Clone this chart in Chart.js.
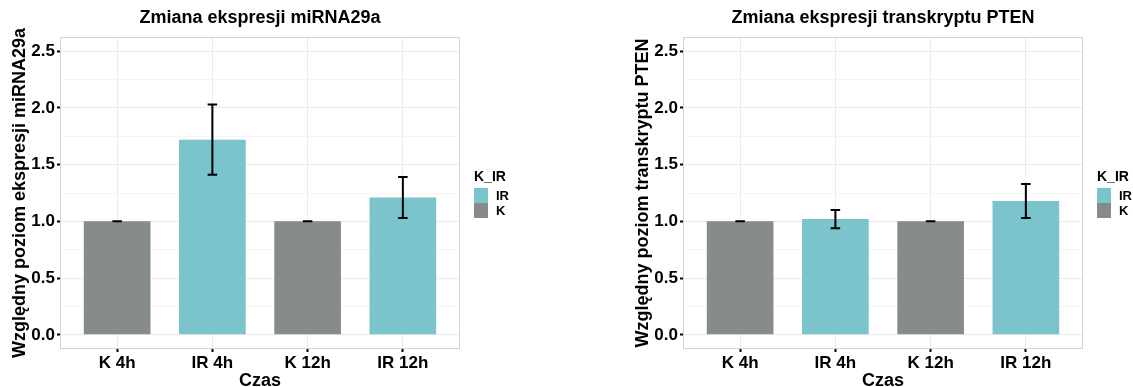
<!DOCTYPE html>
<html lang="pl">
<head>
  <meta charset="UTF-8">
  <title>Zmiana ekspresji miRNA29a i PTEN</title>
  <script src="https://cdn.jsdelivr.net/npm/chart.js"></script>
  <style>
    body {
      margin: 0;
      width: 1133px;
      height: 387px;
      overflow: hidden;
      background: #fff;
      position: relative;
    }
    .panel {
      position: absolute;
      top: 0;
      width: 560px;
      height: 387px;
    }
    #p1 { left: 0; }
    #p2 { left: 623px; }
  </style>
</head>
<body>

  <div class="panel" id="p1"><canvas id="c1" width="560" height="387"></canvas></div>
  <div class="panel" id="p2"><canvas id="c2" width="560" height="387"></canvas></div>

  <script>
    const categories = ['K 4h', 'IR 4h', 'K 12h', 'IR 12h'];
    const groups = ['K', 'IR', 'K', 'IR'];
    const legendKeys = ['IR', 'K'];
    const yMajor = [0, 0.5, 1, 1.5, 2, 2.5];
    const yMinor = [0.25, 0.75, 1.25, 1.75, 2.25];

    const mirnaMean = [1.0, 1.72, 1.0, 1.21];
    const mirnaLow = [1.0, 1.41, 1.0, 1.03];
    const mirnaHigh = [1.0, 2.03, 1.0, 1.39];

    const ptenMean = [1.0, 1.02, 1.0, 1.18];
    const ptenLow = [1.0, 0.94, 1.0, 1.03];
    const ptenHigh = [1.0, 1.10, 1.0, 1.33];

    const colors = { IR: '#7bc4cc', K: '#868c8a' };
    const FONT = "'Liberation Sans', Arial, sans-serif";

    // error bars, panel border, title and legend drawn on the chart's own scales
    const panelPlugin = {
      id: 'panel',
      afterDatasetsDraw(chart, args, opts) {
        const { ctx, scales: { x, y } } = chart;
        const half = x.getPixelForValue(1.05) - x.getPixelForValue(1);
        ctx.save();
        ctx.strokeStyle = '#000';
        ctx.lineWidth = 2;
        opts.low.forEach((lo, i) => {
          const cx = x.getPixelForValue(i + 1);
          const yl = y.getPixelForValue(lo);
          const yh = y.getPixelForValue(opts.high[i]);
          ctx.beginPath();
          ctx.moveTo(cx, yl); ctx.lineTo(cx, yh);
          ctx.moveTo(cx - half, yl); ctx.lineTo(cx + half, yl);
          ctx.moveTo(cx - half, yh); ctx.lineTo(cx + half, yh);
          ctx.stroke();
        });
        ctx.restore();
      },
      afterDraw(chart, args, opts) {
        const { ctx, chartArea: a } = chart;
        ctx.save();
        ctx.strokeStyle = '#d2d2d2';
        ctx.lineWidth = 1;
        ctx.strokeRect(a.left + 0.5, a.top + 0.5, a.right - a.left - 1, a.bottom - a.top - 1);

        ctx.fillStyle = '#000';
        ctx.textAlign = 'center';
        ctx.textBaseline = 'middle';
        ctx.font = 'bold 18px ' + FONT;
        ctx.fillText(opts.title, (a.left + a.right) / 2, 18);

        const mid = (a.top + a.bottom) / 2;
        const lx = a.right + 14;
        ctx.textAlign = 'left';
        ctx.textBaseline = 'alphabetic';
        ctx.font = 'bold 14px ' + FONT;
        ctx.fillText('K_IR', lx, mid - 12);
        ctx.font = 'bold 13px ' + FONT;
        ctx.textBaseline = 'middle';
        legendKeys.forEach((k, i) => {
          const top = mid - 5 + i * 15;
          ctx.fillStyle = colors[k];
          ctx.fillRect(lx, top, 14, 15);
          ctx.fillStyle = '#000';
          ctx.fillText(k, lx + 22, top + 8);
        });
        ctx.restore();
      }
    };

    function makeChart(id, title, yTitle, mean, low, high) {
      new Chart(document.getElementById(id), {
        type: 'bar',
        data: {
          datasets: [{
            data: categories.map((c, i) => ({ x: i + 1, y: mean[i] })),
            backgroundColor: groups.map(g => colors[g]),
            barPercentage: 0.7,
            categoryPercentage: 1,
            borderWidth: 0
          }]
        },
        plugins: [panelPlugin],
        options: {
          responsive: false,
          animation: false,
          layout: { padding: { top: 37, right: 100, left: 0, bottom: 0 } },
          scales: {
            x: {
              type: 'linear',
              min: 0.4,
              max: 4.6,
              offset: false,
              afterBuildTicks: s => { s.ticks = categories.map((c, i) => ({ value: i + 1 })); },
              afterFit: s => { s.height = 38; },
              border: { display: false },
              grid: {
                offset: false,
                color: '#ebebeb',
                tickColor: '#000',
                tickLength: 3,
                tickWidth: 2
              },
              ticks: {
                color: '#000',
                padding: 1,
                maxRotation: 0,
                font: { family: FONT, size: 17, weight: 'bold' },
                callback: v => categories[v - 1]
              },
              title: {
                display: true,
                text: 'Czas',
                color: '#000',
                padding: { top: 0, bottom: -3 },
                font: { family: FONT, size: 18, weight: 'bold', lineHeight: 1 }
              }
            },
            y: {
              min: -0.125,
              max: 2.625,
              afterBuildTicks: s => {
                s.ticks = yMajor.concat(yMinor).sort((a, b) => a - b).map(v => ({ value: v }));
              },
              afterFit: s => { s.width = 60; },
              border: { display: false },
              grid: {
                color: c => yMajor.includes(c.tick.value) ? '#ebebeb' : '#f5f5f5',
                tickColor: c => yMajor.includes(c.tick.value) ? '#000' : 'rgba(0,0,0,0)',
                tickLength: 3,
                tickWidth: 2
              },
              ticks: {
                color: '#000',
                padding: 2,
                font: { family: FONT, size: 17, weight: 'bold' },
                callback: v => yMajor.includes(v) ? v.toFixed(1) : ''
              },
              title: {
                display: true,
                text: yTitle,
                color: '#000',
                padding: { top: 11, bottom: 0 },
                font: { family: FONT, size: 18, weight: 'bold', lineHeight: 1 }
              }
            }
          },
          plugins: {
            legend: { display: false },
            title: { display: false },
            tooltip: { enabled: false },
            panel: { title: title, low: low, high: high }
          }
        }
      });
    }

    makeChart('c1', 'Zmiana ekspresji miRNA29a', 'Względny poziom ekspresji miRNA29a', mirnaMean, mirnaLow, mirnaHigh);
    makeChart('c2', 'Zmiana ekspresji transkryptu PTEN', 'Względny poziom transkryptu PTEN', ptenMean, ptenLow, ptenHigh);
  </script>

</body>
</html>
